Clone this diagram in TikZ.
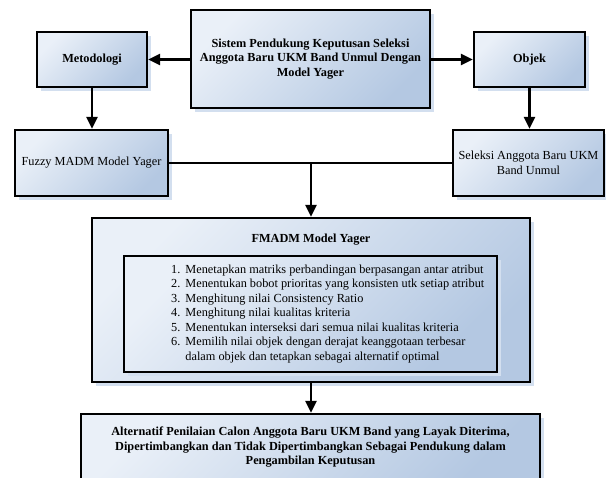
\documentclass[tikz,border=0pt]{standalone}
\usepackage{fontspec}
\setmainfont{Liberation Serif}
\usetikzlibrary{arrows.meta,shadows}
\definecolor{boxlight}{HTML}{EAF0F8}
\definecolor{boxdark}{HTML}{B4C8E2}
\definecolor{shadowblue}{HTML}{D3DFEF}
\tikzset{
  blok/.style={draw,line width=2.2pt,top color=boxlight,bottom color=boxdark,shading angle=45,
    drop shadow={shadow xshift=4pt,shadow yshift=-4pt,fill=shadowblue,opacity=1},
    align=center,inner sep=2pt},
  panah/.style={line width=2.5pt,-{Triangle[width=11pt,length=12pt]}},
  garis/.style={line width=2.5pt}
}
\begin{document}
\begin{tikzpicture}[x=1pt,y=-1pt,font=\fontsize{12.3}{14.5}\selectfont]
	\useasboundingbox (0,0) rectangle (606,478);
	\node[blok,minimum width=239pt,minimum height=98pt,font=\fontsize{12.3}{14.5}\selectfont\bfseries] (SPK) at (310.5,59) {Sistem Pendukung Keputusan Seleksi\\Anggota Baru UKM Band Unmul Dengan\\Model Yager};
	\node[blok,minimum width=110pt,minimum height=55pt,font=\fontsize{12.3}{14.5}\selectfont\bfseries] (Metode) at (92,59.5) {Metodologi};
	\node[blok,minimum width=111pt,minimum height=55pt,font=\fontsize{12.3}{14.5}\selectfont\bfseries] (Objek) at (529.5,59.5) {Objek};
	\node[blok,minimum width=153pt,minimum height=66pt] (Fuzzy) at (91.5,163) {Fuzzy MADM Model Yager};
	\node[blok,minimum width=151pt,minimum height=66pt] (Seleksi) at (528.5,163) {Seleksi Anggota Baru UKM\\Band Unmul};
	\node[blok,minimum width=438pt,minimum height=164pt] (FMADM) at (311,300) {};
	\node[font=\fontsize{12.3}{14.5}\selectfont\bfseries] (FMADMjudul) at (311,240) {FMADM Model Yager};
	\node[blok,minimum width=373pt,minimum height=116pt] (Langkah) at (310.5,314) {};
	\node[anchor=north west,inner sep=0pt,align=left] (Daftar) at (171,263) {%
		\begin{tabular}{@{}r@{\hspace{5pt}}l@{}}
		1. & Menetapkan matriks perbandingan berpasangan antar atribut\\
		2. & Menentukan bobot prioritas yang konsisten utk setiap atribut\\
		3. & Menghitung nilai Consistency Ratio\\
		4. & Menghitung nilai kualitas kriteria\\
		5. & Menentukan interseksi dari semua nilai kualitas kriteria\\
		6. & Memilih nilai objek dengan derajat keanggotaan terbesar\\
		   & dalam objek dan tetapkan sebagai alternatif optimal
		\end{tabular}};
	\node[blok,minimum width=459pt,minimum height=67pt,font=\fontsize{12.3}{14.5}\selectfont\bfseries] (Hasil) at (310.5,447.5) {Alternatif Penilaian Calon Anggota Baru UKM Band yang Layak Diterima,\\Dipertimbangkan dan Tidak Dipertimbangkan Sebagai Pendukung dalam\\Pengambilan Keputusan};
	\coordinate (Temu) at (FMADM.north |- Fuzzy.east);
	\draw[panah] (SPK.west |- Metode.east) -- (Metode.east);
	\draw[panah] (SPK.east |- Objek.west) -- (Objek.west);
	\draw[panah] (Metode.south) -- (Fuzzy.north -| Metode.south);
	\draw[panah] (Objek.south) -- (Seleksi.north -| Objek.south);
	\draw[garis] (Fuzzy.east) -- (Seleksi.west);
	\draw[panah] (Temu) -- (FMADM.north);
	\draw[panah] (FMADM.south) -- (Hasil.north -| FMADM.south);
\end{tikzpicture}
\end{document}
